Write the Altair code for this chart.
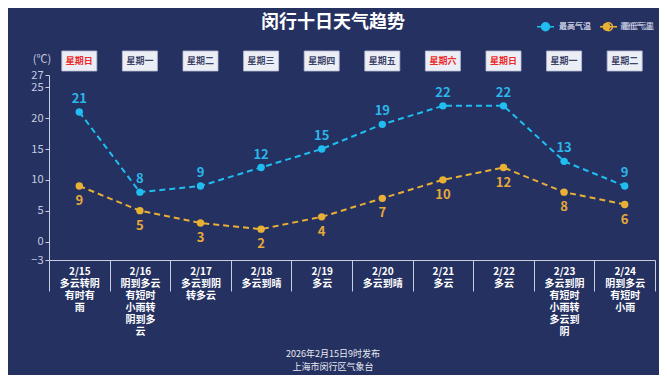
import altair as alt
import pandas as pd

dates = ["2/15", "2/16", "2/17", "2/18", "2/19", "2/20", "2/21", "2/22", "2/23", "2/24"]
weekdays = ["星期日", "星期一", "星期二", "星期三", "星期四", "星期五", "星期六", "星期日", "星期一", "星期二"]
weekend = [True, False, False, False, False, False, True, True, False, False]
weather = [
    ["多云转阴", "有时有", "雨"],
    ["阴到多云", "有短时", "小雨转", "阴到多", "云"],
    ["多云到阴", "转多云"],
    ["多云到晴"],
    ["多云"],
    ["多云到晴"],
    ["多云"],
    ["多云"],
    ["多云到阴", "有短时", "小雨转", "多云到", "阴"],
    ["阴到多云", "有短时", "小雨"],
]
high = [21, 8, 9, 12, 15, 19, 22, 22, 13, 9]
low = [9, 5, 3, 2, 4, 7, 10, 12, 8, 6]
series = ["最高气温", "最低气温"]
colors = ["#1fbdf0", "#e8b035"]
label_colors = ["#2bb7ea", "#e6a93a"]

BG = "#253161"
FONT = "Noto Sans CJK SC"
W, H = 606, 185

keys = [d + "\n" + "\n".join(w) for d, w in zip(dates, weather)]
base_df = pd.DataFrame({"key": keys, "wd": weekdays, "weekend": weekend})
long_df = pd.concat([
    pd.DataFrame({"key": keys, "temp": high, "series": series[0]}),
    pd.DataFrame({"key": keys, "temp": low, "series": series[1]}),
])

xaxis = alt.Axis(title=None,
                 labelExpr="isString(datum.value) ? split(datum.value, '\\n') : ''",
                 labelAngle=0, labelColor="#ffffff", labelFont=FONT,
                 labelFontSize=10, labelFontWeight="bold", labelLineHeight=12,
                 labelBaseline="top", tickBand="extent", tickSize=31,
                 tickColor="#c8cde0", domainColor="#c8cde0", labelPadding=-25,
                 labelOverlap=False)
xenc = alt.X("key:N", sort=keys,
             scale=alt.Scale(domain=keys, paddingInner=0, paddingOuter=0), axis=xaxis)
yaxis = alt.Axis(title=None, values=[-3, 0, 5, 10, 15, 20, 25, 27], labelColor="#c8cde0",
                 labelFont=FONT, labelFontSize=11, tickColor="#c8cde0", domainColor="#c8cde0",
                 tickSize=4, grid=False, labelPadding=2, labelOverlap=False)
yenc = alt.Y("temp:Q", scale=alt.Scale(domain=[-3, 27], nice=False, zero=False), axis=yaxis)

legend = alt.Legend(title=None, orient="none", legendX=487, legendY=-58, direction="horizontal",
                    symbolType="M-1,0L1,0M-0.47,0A0.47,0.47,0,1,1,0.47,0A0.47,0.47,0,1,1,-0.47,0Z",
                    symbolSize=289, symbolStrokeWidth=1.5, labelColor="#c8cde0",
                    labelFont=FONT, labelFontSize=8, columnPadding=6, symbolOffset=0)
color = alt.Color("series:N", scale=alt.Scale(domain=series, range=colors), legend=legend)

lines = alt.Chart(long_df).mark_line(strokeDash=[6, 4], strokeWidth=2).encode(
    x=xenc, y=yenc, color=color, detail="series:N")
points = alt.Chart(long_df).mark_point(filled=True, size=55, opacity=1).encode(
    x=xenc, y=yenc, color=color)

hi_text = alt.Chart(long_df).transform_filter(alt.datum.series == series[0]).mark_text(
    dy=-13, fontSize=13, fontWeight="bold", font=FONT, color=label_colors[0]).encode(
    x=xenc, y=yenc, text="temp:Q")
lo_text = alt.Chart(long_df).transform_filter(alt.datum.series == series[1]).mark_text(
    dy=15, fontSize=13, fontWeight="bold", font=FONT, color=label_colors[1]).encode(
    x=xenc, y=yenc, text="temp:Q")

boxes = alt.Chart(base_df).mark_bar(width=35, color="#eceef6", stroke="#b8bdd2",
                                    strokeWidth=0.8).encode(
    x=xenc, y=alt.value(-24), y2=alt.value(-4))
box_text = alt.Chart(base_df).mark_text(fontSize=9, fontWeight="bold", font=FONT).encode(
    x=xenc, y=alt.value(-14), text="wd:N",
    color=alt.Color("weekend:N", scale=alt.Scale(domain=[True, False],
                                                 range=["#ee2a2a", "#3c4468"]), legend=None))

ann_df = pd.DataFrame({
    "t": ["闵行十日天气趋势", "(℃)", "2026年2月15日9时发布", "上海市闵行区气象台"],
})
title = alt.Chart(ann_df.iloc[[0]]).mark_text(fontSize=18, fontWeight="bold", font=FONT,
                                              color="#ffffff").encode(
    x=alt.value(284), y=alt.value(-52), text="t:N")
unit = alt.Chart(ann_df.iloc[[1]]).mark_text(fontSize=11, font=FONT, color="#c8cde0").encode(
    x=alt.value(-7), y=alt.value(-15), text="t:N")
foot1 = alt.Chart(ann_df.iloc[[2]]).mark_text(fontSize=9, font=FONT, color="#e8eaf2").encode(
    x=alt.value(284), y=alt.value(279), text="t:N")
foot2 = alt.Chart(ann_df.iloc[[3]]).mark_text(fontSize=9, font=FONT, color="#e8eaf2").encode(
    x=alt.value(284), y=alt.value(292), text="t:N")

chart = alt.layer(lines, points, hi_text, lo_text, boxes, box_text, title, unit, foot1, foot2).resolve_scale(
    color="independent"
).properties(
    width=W, height=H, background=BG,
    autosize=alt.AutoSizeParams(type="none"),
    padding={"left": 41, "top": 67, "right": 4, "bottom": 115},
).configure_view(stroke=None)

chart.save("out.html", embed_options={"renderer": "svg", "actions": False})
